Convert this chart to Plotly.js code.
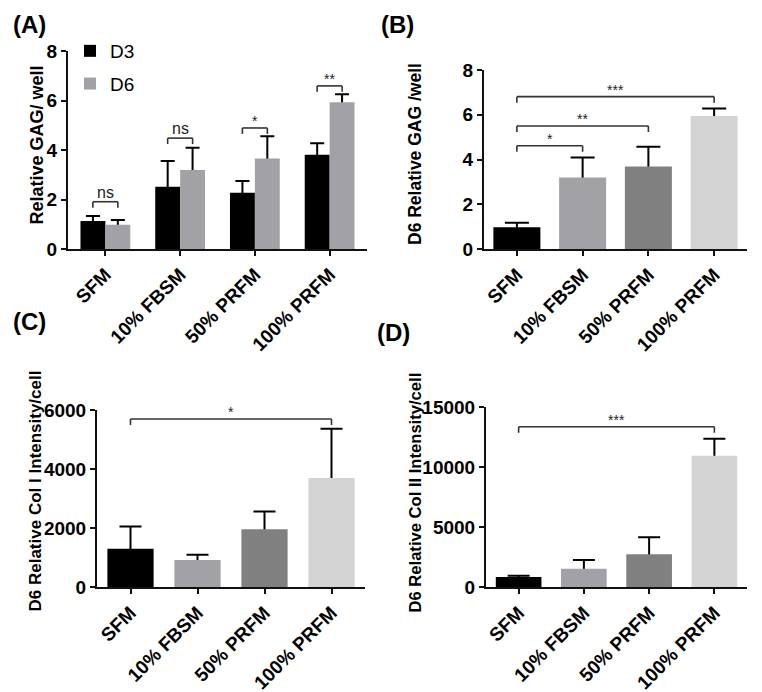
<!DOCTYPE html>
<html>
<head>
<meta charset="utf-8">
<script src="https://cdn.plot.ly/plotly-3.0.1.min.js"></script>
<style>html,body{margin:0;padding:0;background:#fff;}#chart{width:762px;height:692px;}</style>
</head>
<body>
<div id="chart"></div>
<script>
// ---- data ----
var categories = ["SFM", "10% FBSM", "50% PRFM", "100% PRFM"];
// Panel A: Relative GAG / well (mean and mean+SD)
var gagD3 = [1.13, 2.52, 2.27, 3.81];
var gagD3Err = [1.33, 3.56, 2.75, 4.27];
var gagD6 = [0.98, 3.19, 3.66, 5.93];
var gagD6Err = [1.17, 4.09, 4.56, 6.25];
// Panel B: D6 Relative GAG / well
var gagB = [0.98, 3.2, 3.69, 5.95];
var gagBErr = [1.19, 4.1, 4.58, 6.28];
// Panel C: D6 Relative Col I intensity / cell
var col1 = [1308, 925, 1966, 3695];
var col1Err = [2054, 1105, 2563, 5366];
// Panel D: D6 Relative Col II intensity / cell
var col2 = [858, 1550, 2750, 10967];
var col2Err = [967, 2275, 4167, 12383];
// significance brackets: [left position, right position, height, label]
var sigA = [[-0.167, 0.167, 1.91, "ns"], [0.833, 1.167, 4.48, "ns"], [1.833, 2.167, 4.89, "*"], [2.833, 3.167, 6.59, "**"]];
var sigB = [[0, 1, 4.62, "*"], [0, 2, 5.5, "**"], [0, 3, 6.81, "***"]];
var sigC = [[0, 3, 5695, "*"]];
var sigD = [[0, 3, 13383, "***"]];
// axis titles
var yTitles = ["Relative GAG/ well", "D6 Relative GAG /well", "D6 Relative Col I Intensity/cell", "D6 Relative Col II Intensity/cell"];
var panelLabels = ["(A)", "(B)", "(C)", "(D)"];

// ---- styling ----
var FONT = "Liberation Sans, Arial, sans-serif";
var barColors = ["#000000", "#a2a2a6", "#808080", "#d4d4d4"];
var W = 762, H = 692;
function px2x(a, b) { return [a / W, b / W]; }
function px2y(top, bottom) { return [1 - bottom / H, 1 - top / H]; }

var traces = [];
function addBars(xa, ya, vals, errs, color, width, offset, name, showlegend, capw) {
  var up = vals.map(function (v, i) { return errs[i] - v; });
  var down = vals.map(function (v) { return v * 0.5; });
  // error carrier (drawn under the visible bars so only the upper part shows)
  var carrier = {
    type: "bar", x: categories, y: vals, xaxis: xa, yaxis: ya,
    marker: { color: "rgba(0,0,0,0)" }, width: width, showlegend: false, hoverinfo: "skip",
    error_y: { type: "data", symmetric: false, array: up, arrayminus: down, color: "#000", thickness: 2, width: capw }
  };
  if (offset !== null) carrier.offset = offset;
  traces.push(carrier);
  var t = {
    type: "bar", x: categories, y: vals, xaxis: xa, yaxis: ya, name: name, legendgroup: name,
    marker: { color: color }, width: width, showlegend: showlegend
  };
  if (offset !== null) t.offset = offset;
  traces.push(t);
}
addBars("x", "y", gagD3, gagD3Err, "#000000", 0.333, -0.333, "D3", true, 7);
addBars("x", "y", gagD6, gagD6Err, "#a2a2a6", 0.333, 0, "D6", true, 7);
addBars("x2", "y2", gagB, gagBErr, barColors, 0.715, null, "B", false, 12);
addBars("x3", "y3", col1, col1Err, barColors, 0.69, null, "C", false, 11);
addBars("x4", "y4", col2, col2Err, barColors, 0.70, null, "D", false, 11);

var shapes = [], annotations = [];
function addSig(list, xr, yr, tick) {
  list.forEach(function (s) {
    var ln = { color: "#333", width: 1.6 };
    shapes.push({ type: "line", xref: xr, yref: yr, x0: s[0], x1: s[1], y0: s[2], y1: s[2], line: ln });
    shapes.push({ type: "line", xref: xr, yref: yr, x0: s[0], x1: s[0], y0: s[2], y1: s[2] - tick, line: ln });
    shapes.push({ type: "line", xref: xr, yref: yr, x0: s[1], x1: s[1], y0: s[2], y1: s[2] - tick, line: ln });
    var isNs = s[3] === "ns";
    annotations.push({
      xref: xr, yref: yr, x: (s[0] + s[1]) / 2, y: s[2], text: s[3], showarrow: false,
      yanchor: "bottom", yshift: isNs ? -1 : -3,
      font: { family: FONT, size: isNs ? 16 : 14, color: "#222" }
    });
  });
}
addSig(sigA, "x", "y", 0.24);
addSig(sigB, "x2", "y2", 0.27);
addSig(sigC, "x3", "y3", 200);
addSig(sigD, "x4", "y4", 500);

// panel labels
[[11, 9], [379, 9], [11, 306], [375, 317]].forEach(function (p, i) {
  annotations.push({
    xref: "paper", yref: "paper", x: p[0] / W, y: 1 - p[1] / H, xanchor: "left", yanchor: "top",
    text: "<b>" + panelLabels[i] + "</b>", showarrow: false, font: { family: FONT, size: 24, color: "#000" }
  });
});
// y-axis titles (rotated text)
[[37, 145.5, 18], [415, 154, 17.5], [35, 491.5, 17], [415, 492.5, 16.6]].forEach(function (p, i) {
  annotations.push({
    xref: "paper", yref: "paper", x: p[0] / W, y: 1 - p[1] / H, xanchor: "center", yanchor: "middle",
    textangle: -90, text: "<b>" + yTitles[i] + "</b>", showarrow: false,
    font: { family: FONT, size: p[2], color: "#000" }
  });
});

function xAxis(domain, anchor) {
  return {
    domain: domain, anchor: anchor, type: "category", range: [-0.5, 3.5],
    showline: true, linecolor: "#111", linewidth: 2, ticks: "outside", ticklen: 5, tickwidth: 2, tickcolor: "#111",
    tickangle: -45, showgrid: false, zeroline: false, fixedrange: true,
    tickfont: { family: FONT, size: 19, color: "#000", weight: "bold" }
  };
}
function yAxis(domain, anchor, range, dtick) {
  return {
    domain: domain, anchor: anchor, range: range, dtick: dtick, tick0: 0, tickformat: "d",
    showline: true, linecolor: "#111", linewidth: 2, ticks: "outside", ticklen: 5, tickwidth: 2, tickcolor: "#111",
    showgrid: false, zeroline: false, fixedrange: true,
    tickfont: { family: FONT, size: 19, color: "#000", weight: "bold" }
  };
}

var layout = {
  width: W, height: H, margin: { l: 0, r: 0, t: 0, b: 0 },
  paper_bgcolor: "#fff", plot_bgcolor: "#fff",
  barmode: "overlay", showlegend: true,
  legend: { x: 70 / W, y: 1 - 32 / H, xanchor: "left", yanchor: "top", bgcolor: "rgba(0,0,0,0)",
    font: { family: FONT, size: 19, color: "#000" }, itemwidth: 30, traceorder: "grouped", tracegroupgap: 5 },
  xaxis: xAxis(px2x(68, 367), "y"),
  yaxis: yAxis(px2y(51, 249), "x", [0, 8], 2),
  xaxis2: xAxis(px2x(484, 747), "y2"),
  yaxis2: yAxis(px2y(70, 249.3), "x2", [0, 8], 2),
  xaxis3: xAxis(px2x(97, 365), "y3"),
  yaxis3: yAxis(px2y(410, 587.3), "x3", [0, 6000], 2000),
  xaxis4: xAxis(px2x(486, 747), "y4"),
  yaxis4: yAxis(px2y(407.3, 587.3), "x4", [0, 15000], 5000),
  shapes: shapes, annotations: annotations
};

Plotly.newPlot("chart", traces, layout, { displayModeBar: false, staticPlot: true });
</script>
</body>
</html>
